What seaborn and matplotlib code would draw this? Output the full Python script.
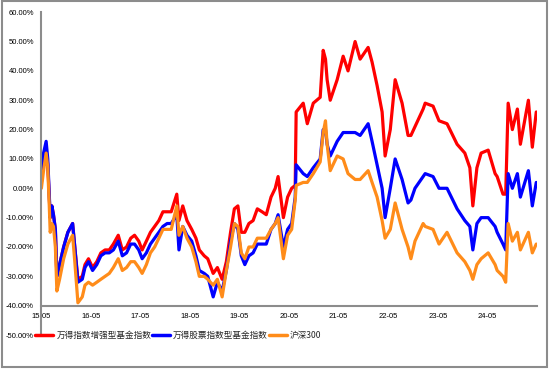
import matplotlib
matplotlib.use("Agg")
import matplotlib.pyplot as plt
from matplotlib.patches import Rectangle
from matplotlib.ticker import FuncFormatter
import pandas as pd
import seaborn as sns

series_names = ["万得指数增强型基金指数", "万得股票指数型基金指数", "沪深300"]
colors = ["#FF0000", "#0000FF", "#FF8C1A"]

dates = [
    "2015-05-04", "2015-05-20", "2015-06-08", "2015-06-20", "2015-07-01", "2015-07-08",
    "2015-07-20", "2015-08-01", "2015-08-15", "2015-08-26", "2015-09-15", "2015-10-15",
    "2015-11-15", "2015-12-20", "2016-01-05", "2016-01-28", "2016-02-29", "2016-03-20",
    "2016-04-15", "2016-05-15", "2016-06-15", "2016-07-15", "2016-08-15", "2016-09-15",
    "2016-10-15", "2016-11-20", "2016-12-20", "2017-01-20", "2017-02-20", "2017-03-20",
    "2017-04-20", "2017-05-15", "2017-06-15", "2017-07-15", "2017-08-15", "2017-09-15",
    "2017-10-15", "2017-11-15", "2017-12-15", "2018-01-25", "2018-02-10", "2018-03-10",
    "2018-04-10", "2018-05-15", "2018-06-15", "2018-07-10", "2018-08-15", "2018-09-10",
    "2018-10-20", "2018-11-20", "2018-12-25", "2019-01-25", "2019-02-25", "2019-03-25",
    "2019-04-20", "2019-05-15", "2019-06-10", "2019-07-10", "2019-08-10", "2019-09-10",
    "2019-10-15", "2019-11-15", "2019-12-20", "2020-01-20", "2020-02-10", "2020-03-20",
    "2020-04-20", "2020-05-20",
    "2020-06-15", "2020-06-22", "2020-08-13", "2020-09-12", "2020-10-26", "2020-12-16",
    "2021-01-07", "2021-01-24", "2021-02-05", "2021-02-28", "2021-04-20", "2021-06-03",
    "2021-07-09", "2021-08-30", "2021-10-06", "2021-12-04", "2022-01-02", "2022-02-08",
    "2022-03-17", "2022-04-08", "2022-05-16", "2022-06-21", "2022-08-11", "2022-09-24",
    "2022-10-15", "2022-11-14", "2023-01-13", "2023-01-28", "2023-03-27", "2023-05-10",
    "2023-07-08", "2023-09-20", "2023-11-16", "2023-12-23", "2024-01-14", "2024-02-13",
    "2024-03-15", "2024-05-06", "2024-06-26", "2024-07-11", "2024-08-23", "2024-09-12",
    "2024-09-30", "2024-10-31", "2024-12-07", "2024-12-29", "2025-02-26", "2025-03-27",
    "2025-04-25",
]

enhanced = [
    2, 10, 13, 8, -3, -10, -6, -9, -14, -30, -26, -20,
    -15, -12, -20, -31, -30, -26, -24, -27, -25, -22, -21, -21,
    -19, -16, -21, -20, -17, -16, -18, -21, -18, -15, -13, -11,
    -8, -8, -8, -2, -11, -6, -11, -14, -17, -21, -23, -24,
    -29, -27, -31, -25, -15, -7, -6, -15, -15, -12, -11, -7,
    -8, -9, -3, 0, 4, -10, -3, 0,
    1, 26, 29, 22, 29, 31,
    47, 44, 37, 30, 37, 45,
    40, 50, 44, 48, 43, 35,
    26, 11, 20, 37, 29, 18,
    18, 21, 27, 29, 28, 23,
    22, 15, 12, 7, -6, 7,
    12, 13, 5, 4, -2, -2,
    29, 20, 27, 15, 30, 14,
    26,
]

stock_index = [
    2, 12, 16, 10, -2, -10, -6, -9, -14, -30, -26, -20,
    -15, -12, -20, -32, -31, -27, -25, -28, -26, -23, -22, -22,
    -21, -18, -23, -22, -19, -19, -21, -24, -22, -19, -17, -15,
    -13, -12, -12, -9, -21, -13, -16, -18, -23, -28, -29, -30,
    -37, -32, -35, -28, -18, -12, -14, -23, -26, -23, -22, -19,
    -19, -19, -14, -12, -9, -20, -14, -12,
    -3, 8, 5, 4, 7, 10,
    20, 20, 15, 11, 16, 19,
    19, 19, 18, 22, 16, 8,
    0, -10, 0, 10, 3, -5,
    -4, 0, 4, 5, 4, 0,
    0, -7, -11, -13, -21, -12,
    -10, -10, -13, -15, -19, -21,
    5, 0, 5, -3, 6, -6,
    2,
]

csi300 = [
    0, 6, 12, 7, -6, -15, -12, -13, -20, -35, -31, -24,
    -19, -16, -25, -39, -37, -33, -32, -33, -32, -31, -30, -29,
    -27, -24, -28, -27, -25, -25, -27, -29, -26, -22, -20, -17,
    -14, -14, -14, -6, -16, -13, -17, -20, -25, -30, -30, -31,
    -33, -31, -37, -28, -20, -12, -13, -22, -24, -20, -20, -17,
    -17, -17, -14, -12, -10, -24, -16, -14,
    -4, 1, 2, 2, 5, 9,
    19, 23, 15, 6, 11, 10,
    5, 3, 3, 6, 2, -3,
    -11, -17, -14, -5, -14, -20,
    -24, -18, -12, -13, -14, -19,
    -15, -22, -25, -28, -31, -26,
    -24, -22, -26, -28, -30, -32,
    -12, -18, -15, -21, -15, -22,
    -19,
]

df = pd.DataFrame({
    "date": pd.to_datetime(dates),
    series_names[0]: enhanced,
    series_names[1]: stock_index,
    series_names[2]: csi300,
})
long = df.melt(id_vars="date", var_name="series", value_name="value")

sns.set_style("white")
plt.rcParams["font.family"] = ["Liberation Sans", "DejaVu Sans"]

fig = plt.figure(figsize=(5.5, 3.69), dpi=100)
ax = fig.add_axes([0.0745, 0.092, 0.902, 0.875])

sns.lineplot(data=long, x="date", y="value", hue="series", hue_order=series_names,
             palette=colors, linewidth=2.3, estimator=None, sort=False, ax=ax)

# y axis: -50% .. 60%, horizontal axis crossing at -40%
ax.set_ylim(-50, 60)
ax.set_yticks(range(-50, 61, 10))
ax.yaxis.set_major_formatter(FuncFormatter(lambda v, p: f"{v:.2f}%"))

xticks = pd.to_datetime([f"{y}-05-01" for y in range(2015, 2026)])
ax.set_xlim(xticks[0], xticks[-1])
ax.set_xticks(xticks)
ax.set_xticklabels([d.strftime("%y-%m") for d in xticks[:-1]] + [""])

for side in ["top", "right"]:
    ax.spines[side].set_visible(False)
ax.spines["bottom"].set_position(("data", -40))
for side in ["left", "bottom"]:
    ax.spines[side].set_color("#8c8c8c")
    ax.spines[side].set_linewidth(1.5)

ax.tick_params(axis="both", which="major", direction="out", length=3, width=1,
               color="#8c8c8c", labelsize=5.5, labelcolor="black", pad=2)
ax.set_xlabel("")
ax.set_ylabel("")
ax.grid(False)

handles, labels = ax.get_legend_handles_labels()
ax.get_legend().remove()
leg = fig.legend(handles, labels, loc="center left", bbox_to_anchor=(0.064, 0.092),
                 ncol=3, frameon=False, handlelength=2.1, handletextpad=0.35,
                 columnspacing=0.1, borderpad=0, borderaxespad=0,
                 prop={"family": ["Noto Sans CJK SC", "DejaVu Sans"], "size": 6.2})
for line in leg.get_lines():
    line.set_linewidth(2.5)

# outer frame of the chart area
fig.patches.append(Rectangle((0.003, 0.006), 0.992, 0.99, transform=fig.transFigure,
                             fill=False, edgecolor="#8c8c8c", linewidth=1.5))

fig.savefig("out.png", dpi=100)
